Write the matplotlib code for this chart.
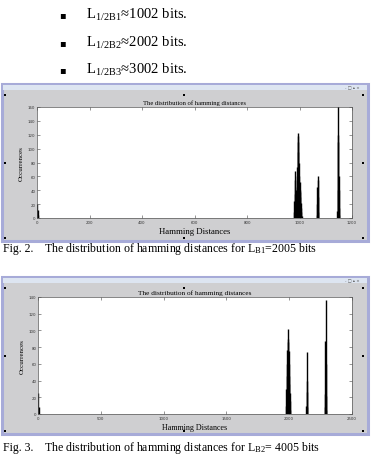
import matplotlib
matplotlib.use("Agg")
import matplotlib.pyplot as plt
from matplotlib.patches import Rectangle

plt.rcParams['font.family'] = ['Liberation Serif', 'DejaVu Serif']
plt.rcParams['mathtext.fontset'] = 'stix'

W, H = 372, 456

# bullet lines above the first figure
bullet_subs = ["1/2B1", "1/2B2", "1/2B3"]
bullet_vals = ["1002", "2002", "3002"]

# Fig. 2 histogram (L_B1 = 2005 bits)
fig2_x = [0, 1, 2, 3,
          978, 980, 982, 983, 984, 985, 986, 988, 990, 991, 992, 993, 994,
          995, 996, 997, 998, 999, 1000, 1001, 1002, 1003, 1004, 1005, 1006, 1008,
          1066, 1067, 1068, 1069, 1070, 1071, 1072,
          1144, 1145, 1146, 1147, 1148, 1149, 1150, 1151, 1152]
fig2_y = [6, 20, 12, 4,
          8, 25, 35, 55, 68, 40, 22, 30, 45, 60, 74, 95, 118,
          122, 110, 80, 60, 45, 52, 38, 40, 30, 22, 15, 8, 3,
          5, 20, 45, 60, 55, 30, 8,
          10, 40, 120, 170, 110, 60, 40, 15, 5]

# Fig. 3 histogram (L_B2 = 4005 bits)
fig3_x = [0, 2, 4,
          1972, 1976, 1980, 1984, 1986, 1988, 1990, 1992, 1994, 1996, 1998,
          2000, 2002, 2004, 2006, 2010,
          2136, 2138, 2140, 2142, 2144,
          2284, 2286, 2288, 2290, 2292, 2294, 2296]
fig3_y = [5, 25, 8,
          10, 30, 45, 77, 60, 70, 86, 102, 90, 75, 60,
          45, 36, 25, 15, 5,
          10, 26, 74, 40, 8,
          8, 24, 87, 136, 60, 22, 5]

captions = ["Fig. 2.", "Fig. 3."]
caption_texts = ["The distribution of hamming distances for L$_{\\mathregular{B1}}$=2005 bits",
                 "The distribution of hamming distances for L$_{\\mathregular{B2}}$= 4005 bits"]


def fx(px):
    return px / W


def fy(py):
    return 1 - py / H


fig = plt.figure(figsize=(W / 100, H / 100), dpi=100)
fig.patch.set_facecolor('white')

for i, (sub, val) in enumerate(zip(bullet_subs, bullet_vals)):
    y = [15, 43, 70][i]
    fig.text(fx(62), fy(y), "\u25aa", fontsize=7, ha='center', va='center', family='DejaVu Sans')
    fig.text(fx(86), fy(y), "L$_{\\mathregular{%s}}$\u2248%s bits." % (sub, val),
             fontsize=10.5, ha='left', va='center')


def window(top, bottom):
    # window frame, title strip and selection handles sit behind/around the axes
    fig.patches.append(Rectangle((fx(2), fy(bottom)), fx(366), (bottom - top) / H,
                                 transform=fig.transFigure, facecolor='#cfcfd1',
                                 edgecolor='#a7abd8', linewidth=2.2, zorder=-2))
    fig.patches.append(Rectangle((fx(3), fy(top + 6)), fx(364), 5 / H,
                                 transform=fig.transFigure, facecolor='#dde5f1',
                                 edgecolor='none', zorder=-1))
    fig.text(fx(352), fy(top + 3.5), "- \u25a1 \u25b4 \u00d7", fontsize=3, color='#555555',
             ha='center', va='center', family='DejaVu Sans')
    mid = (top + bottom) / 2
    for hx in [5, 184, 363]:
        for hy in [top + 11, mid, bottom - 3]:
            if hx == 184 and hy == mid:
                continue
            fig.patches.append(Rectangle((fx(hx - 1), fy(hy + 1)), 2 / W, 2 / H,
                                         transform=fig.transFigure, facecolor='black',
                                         edgecolor='none', zorder=2))


def hist_axes(rect, xs, ys, xmax, xstep, ymax, title_size, xlabel_size):
    ax = fig.add_axes(rect)
    ax.set_facecolor('white')
    ax.vlines(xs, 0, ys, color='black', linewidth=1.0)
    ax.set_xlim(0, xmax)
    ax.set_ylim(0, ymax)
    ax.set_xticks(range(0, xmax + 1, xstep))
    ax.set_yticks(range(0, ymax + 1, 20))
    ax.tick_params(direction='in', length=2, width=0.4, labelsize=2.8, pad=1.2,
                   top=True, right=True, labelcolor='#333333', color='#444444')
    for lab in ax.get_xticklabels() + ax.get_yticklabels():
        lab.set_family('DejaVu Sans')
    for s in ax.spines.values():
        s.set_linewidth(0.5)
        s.set_color('#555555')
    ax.set_title("The distribution of hamming distances", fontsize=title_size, pad=2.5)
    ax.set_xlabel("Hamming Distances", fontsize=xlabel_size, labelpad=2.5)
    ax.set_ylabel("Occurrences", fontsize=5, labelpad=3)
    return ax


window(85, 242)
hist_axes([fx(37), fy(219), fx(315), 111 / H], fig2_x, fig2_y, 1200, 200, 160, 4.8, 6.3)
fig.text(fx(3), fy(249), captions[0], fontsize=8.6, ha='left', va='center')
fig.text(fx(44), fy(249), caption_texts[0], fontsize=8.6, ha='left', va='center')

window(278, 435)
hist_axes([fx(38), fy(415), fx(314), 117 / H], fig3_x, fig3_y, 2500, 500, 140, 5.2, 5.8)
fig.text(fx(3), fy(448), captions[1], fontsize=8.6, ha='left', va='center')
fig.text(fx(44), fy(448), caption_texts[1], fontsize=8.6, ha='left', va='center')

fig.savefig("out.png", dpi=100, facecolor='white')
